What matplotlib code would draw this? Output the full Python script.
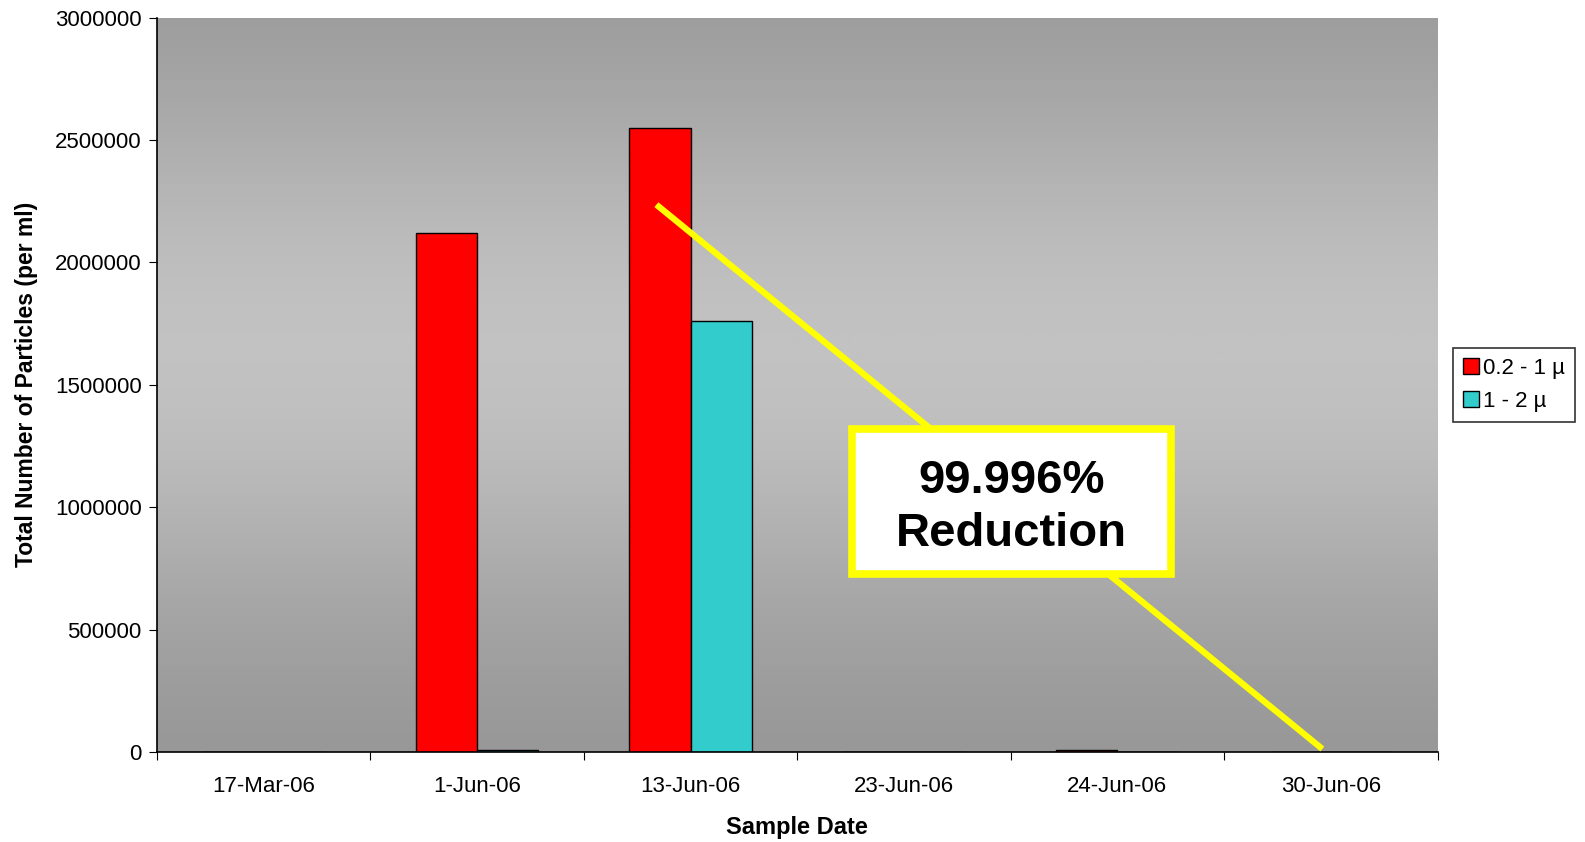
import numpy as np
import matplotlib.pyplot as plt
from matplotlib.colors import LinearSegmentedColormap
from matplotlib.patches import Rectangle

plt.rcParams['font.family'] = ['Liberation Sans', 'DejaVu Sans']

# Data
dates = ['17-Mar-06', '1-Jun-06', '13-Jun-06', '23-Jun-06', '24-Jun-06', '30-Jun-06']
small = [0, 2120000, 2550000, 0, 8000, 0]      # 0.2 - 1 µ
large = [0, 8000, 1760000, 0, 0, 0]            # 1 - 2 µ
series_names = ['0.2 - 1 µ', '1 - 2 µ']

# reduction trend line endpoints (category position, value)
trend_x = [1.84, 4.96]
trend_y = [2236000, 12000]
note = '99.996%\nReduction'

fig = plt.figure(figsize=(15.85, 8.42), dpi=100)
ax = fig.add_axes([0.099, 0.107, 0.808, 0.872])

x = np.arange(len(dates))
w = 0.286

# gradient background: dark at top and bottom, light in the middle
grad = np.linspace(0, 1, 256)
shade = np.exp(-((grad - 0.55) / 0.38) ** 2)
cmap = LinearSegmentedColormap.from_list('bg', ['#989898', '#c2c2c2'])
ax.imshow(shade[:, None], aspect='auto', cmap=cmap, origin='lower',
          extent=[-0.5, len(dates) - 0.5, 0, 3000000], zorder=0)

ax.bar(x - w / 2, small, w, color='#ff0000', edgecolor='black', linewidth=1,
       label=series_names[0], zorder=2)
ax.bar(x + w / 2, large, w, color='#33cccc', edgecolor='black', linewidth=1,
       label=series_names[1], zorder=2)

ax.plot(trend_x, trend_y, color='#ffff00', linewidth=4.5, zorder=3,
        solid_capstyle='butt')

ax.set_xlim(-0.5, len(dates) - 0.5)
ax.set_ylim(0, 3000000)
ax.set_yticks(np.arange(0, 3000001, 500000))
ax.set_yticklabels([str(v) for v in range(0, 3000001, 500000)])
ax.set_xticks(np.arange(-0.5, len(dates), 1))
ax.set_xticklabels([])
ax.set_xticks(x, minor=True)
ax.set_xticklabels(dates, minor=True)
ax.tick_params(axis='x', which='minor', length=0, pad=17, labelsize=16)
ax.tick_params(axis='x', which='major', length=6, direction='out')
ax.tick_params(axis='y', length=6, direction='out', labelsize=16, pad=5)

for s in ['top', 'right']:
    ax.spines[s].set_visible(False)
for s in ['left', 'bottom']:
    ax.spines[s].set_linewidth(1.2)

ax.set_xlabel('Sample Date', fontsize=17, fontweight='bold', labelpad=14)
ax.set_ylabel('Total Number of Particles (per ml)', fontsize=16.5,
              fontweight='bold', labelpad=12)

leg = ax.legend(loc='center left', bbox_to_anchor=(1.012, 0.5), fontsize=16,
                frameon=True, fancybox=False, handlelength=0.7,
                handleheight=0.7, handletextpad=0.2, borderpad=0.45,
                labelspacing=0.55, borderaxespad=0)
leg.get_frame().set_edgecolor('black')
leg.get_frame().set_linewidth(1.2)

# annotation box
fig.patches.append(Rectangle((0.5375, 0.318), 0.2015, 0.173,
                             transform=fig.transFigure, facecolor='white',
                             edgecolor='#ffff00', linewidth=5.5, zorder=4))
fig.text(0.638, 0.397, note, ha='center', va='center', fontsize=34,
         fontweight='bold', linespacing=1.27, zorder=5)

fig.savefig('out.png', dpi=100)
